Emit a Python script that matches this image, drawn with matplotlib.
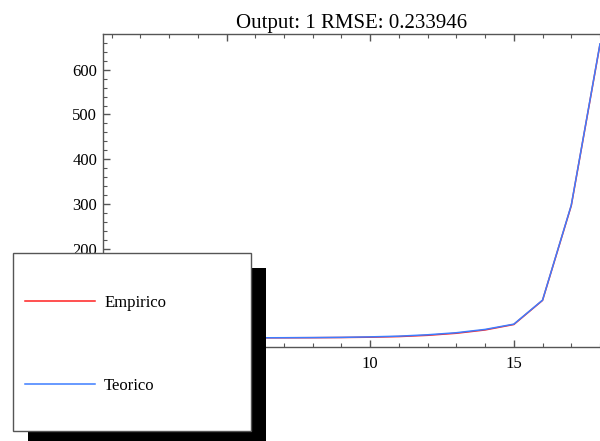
import numpy as np
import matplotlib.pyplot as plt
from matplotlib.patches import Rectangle
from matplotlib.ticker import MultipleLocator

x = np.arange(1, 19)
empirico = [0.0, 0.0, 0.0, 0.1, 0.1, 0.2, 0.3, 0.5, 0.9, 1.6, 3.0, 5.8, 10.4, 17.8, 30.0, 84.0, 296.0, 657.0]
teorico = [0.0, 0.0, 0.0, 0.1, 0.1, 0.2, 0.4, 0.7, 1.2, 2.3, 3.9, 7.0, 11.6, 19.0, 30.8, 84.5, 297.0, 658.0]
title = "Output: 1 RMSE: 0.233946"

plt.rcParams['font.family'] = ['Liberation Serif', 'DejaVu Serif']

fig = plt.figure(figsize=(6, 4.41), dpi=100)
ax = fig.add_axes([0.1712, 0.2125, 0.8288, 0.7093])

ax.plot(x, empirico, color='#ff2020', lw=1.1, label='Empirico')
ax.plot(x, teorico, color='#3d7dff', lw=1.1, label='Teorico')

ax.set_xlim(0.69, 18)
ax.set_ylim(-21, 679)
ax.xaxis.set_major_locator(MultipleLocator(5))
ax.xaxis.set_minor_locator(MultipleLocator(1))
ax.yaxis.set_major_locator(MultipleLocator(100))
ax.yaxis.set_minor_locator(MultipleLocator(20))
ax.tick_params(which='both', direction='in', top=True, right=False,
               color='#555555', labelsize=12)
ax.tick_params(which='major', length=5, width=1)
ax.tick_params(which='minor', length=3, width=0.8)
ax.tick_params(axis='x', pad=6)
ax.tick_params(axis='y', pad=4)
for s in ax.spines.values():
    s.set_color('#555555')
    s.set_linewidth(1)
ax.spines['right'].set_visible(False)
ax.set_title(title, fontsize=15, pad=5)

# legend box with a hard black shadow, partly outside the axes
H = 441
fig.patches.append(Rectangle((28, H - 441), 238, 173, transform=None,
                             facecolor='black', edgecolor='none', zorder=5))
fig.patches.append(Rectangle((12.5, H - 431), 238, 178, transform=None,
                             facecolor='white', edgecolor='#555555', lw=1, zorder=6))
leg = fig.legend(loc='upper left', bbox_to_anchor=(25 / 600, 1 - 295 / H),
                 frameon=False, fontsize=12, handlelength=4.2,
                 handletextpad=0.55, labelspacing=4.0, borderpad=0,
                 borderaxespad=0)
leg.set_zorder(7)

fig.savefig('out.png', dpi=100)
